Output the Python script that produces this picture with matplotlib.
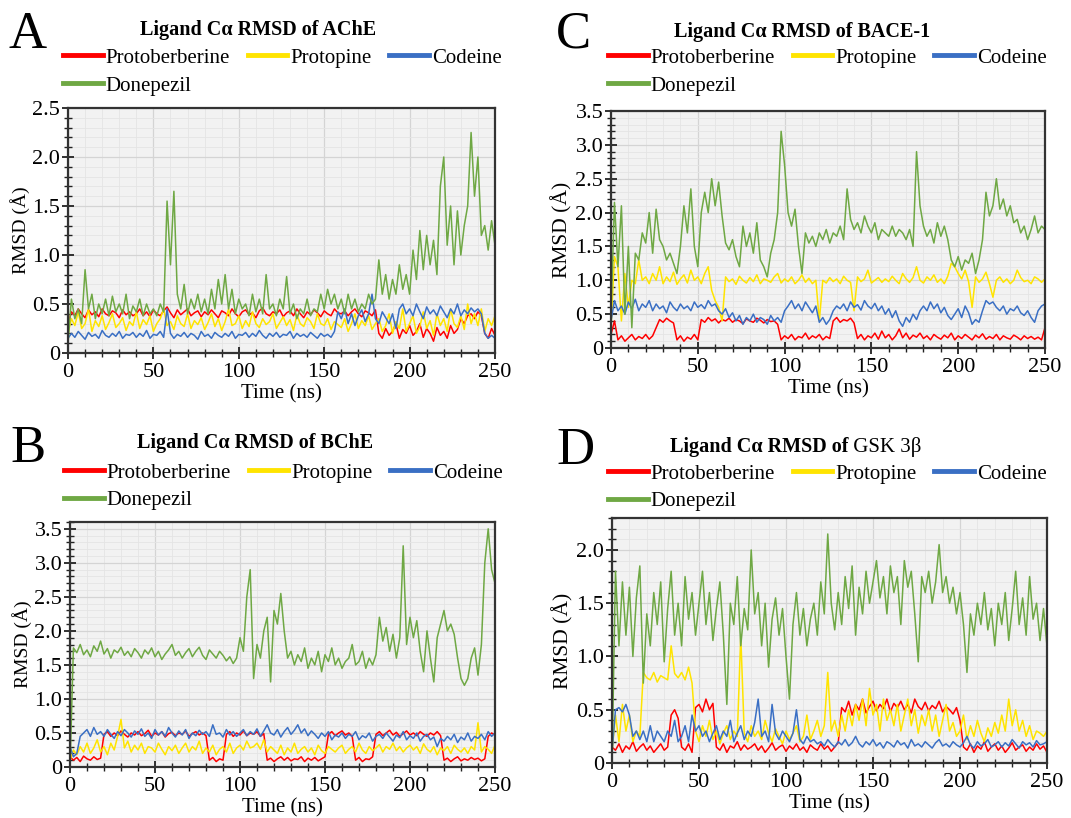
import numpy as np
import matplotlib.pyplot as plt
from matplotlib.lines import Line2D
from matplotlib.ticker import MultipleLocator, FuncFormatter

plt.rcParams['font.family'] = ['Liberation Serif', 'DejaVu Serif']

ligands = ['Protoberberine', 'Protopine', 'Codeine', 'Donepezil']
colors = ['#ff0000', '#ffe400', '#3a6fc4', '#6fa844']

# ---- AChE (A), values every 2 ns ----
ache_protoberberine = [
    0.30, 0.42, 0.38, 0.45, 0.40, 0.36, 0.44, 0.39, 0.42, 0.37,
    0.45, 0.40, 0.38, 0.43, 0.41, 0.36, 0.44, 0.39, 0.42, 0.38,
    0.40, 0.45, 0.38, 0.42, 0.37, 0.44, 0.40, 0.38, 0.43, 0.47,
    0.41, 0.36, 0.44, 0.39, 0.42, 0.45, 0.38, 0.41, 0.43, 0.37,
    0.42, 0.39, 0.44, 0.40, 0.36, 0.43, 0.41, 0.38, 0.45, 0.40,
    0.37, 0.42, 0.44, 0.39, 0.41, 0.36, 0.43, 0.46, 0.40, 0.38,
    0.42, 0.40, 0.44, 0.37, 0.41, 0.43, 0.38, 0.45, 0.40, 0.36,
    0.42, 0.39, 0.44, 0.41, 0.37, 0.43, 0.40, 0.38, 0.45, 0.41,
    0.40, 0.43, 0.38, 0.42, 0.45, 0.40, 0.37, 0.43, 0.41, 0.38,
    0.44, 0.20, 0.15, 0.25, 0.18, 0.22, 0.30, 0.15, 0.24, 0.20,
    0.28, 0.18, 0.22, 0.30, 0.16, 0.25, 0.20, 0.12, 0.26, 0.18,
    0.22, 0.15, 0.28, 0.20, 0.24, 0.35, 0.30, 0.38, 0.40, 0.35,
    0.42, 0.38, 0.20, 0.15, 0.25, 0.18]
ache_protopine = [
    0.20, 0.35, 0.28, 0.42, 0.25, 0.30, 0.45, 0.22, 0.33, 0.27,
    0.38, 0.24, 0.31, 0.40, 0.26, 0.30, 0.36, 0.23, 0.32, 0.28,
    0.42, 0.25, 0.34, 0.29, 0.38, 0.22, 0.30, 0.35, 0.45, 0.28,
    0.32, 0.24, 0.38, 0.30, 0.27, 0.40, 0.25, 0.33, 0.29, 0.36,
    0.24, 0.31, 0.40, 0.27, 0.35, 0.23, 0.32, 0.45, 0.28, 0.30,
    0.38, 0.25, 0.33, 0.27, 0.42, 0.30, 0.26, 0.35, 0.29, 0.32,
    0.40, 0.25, 0.31, 0.37, 0.28, 0.34, 0.23, 0.39, 0.30, 0.27,
    0.36, 0.32, 0.25, 0.40, 0.30, 0.28, 0.35, 0.24, 0.32, 0.29,
    0.26, 0.35, 0.22, 0.30, 0.40, 0.25, 0.33, 0.28, 0.38, 0.24,
    0.30, 0.35, 0.22, 0.28, 0.40, 0.20, 0.32, 0.25, 0.45, 0.22,
    0.30, 0.38, 0.20, 0.27, 0.42, 0.25, 0.33, 0.18, 0.40, 0.28,
    0.35, 0.22, 0.45, 0.30, 0.26, 0.38, 0.24, 0.50, 0.30, 0.40,
    0.28, 0.45, 0.22, 0.35, 0.28, 0.38]
ache_codeine = [
    0.15, 0.20, 0.16, 0.22, 0.18, 0.14, 0.21, 0.17, 0.19, 0.15,
    0.23, 0.18, 0.16, 0.20, 0.17, 0.22, 0.15, 0.19, 0.18, 0.21,
    0.16, 0.20, 0.17, 0.23, 0.15, 0.19, 0.18, 0.22, 0.16, 0.45,
    0.20, 0.15, 0.19, 0.17, 0.21, 0.16, 0.20, 0.18, 0.14, 0.22,
    0.17, 0.19, 0.15, 0.21, 0.18, 0.16, 0.20, 0.17, 0.22, 0.15,
    0.19, 0.18, 0.21, 0.16, 0.20, 0.17, 0.23, 0.18, 0.15, 0.20,
    0.17, 0.21, 0.16, 0.19, 0.18, 0.22, 0.15, 0.20, 0.17, 0.19,
    0.16, 0.21, 0.18, 0.15, 0.20, 0.17, 0.19, 0.16, 0.22, 0.42,
    0.35, 0.45, 0.30, 0.40, 0.28, 0.38, 0.44, 0.32, 0.40, 0.60,
    0.35, 0.30, 0.42, 0.36, 0.30, 0.40, 0.25, 0.45, 0.50, 0.40,
    0.45, 0.38, 0.50, 0.42, 0.35, 0.47, 0.40, 0.44, 0.38, 0.48,
    0.42, 0.36, 0.45, 0.40, 0.50, 0.38, 0.44, 0.40, 0.46, 0.42,
    0.45, 0.40, 0.20, 0.15, 0.18, 0.15]
ache_donepezil = [
    0.10, 0.55, 0.35, 0.45, 0.30, 0.85, 0.45, 0.60, 0.35, 0.50,
    0.40, 0.55, 0.38, 0.58, 0.42, 0.50, 0.40, 0.60, 0.35, 0.48,
    0.42, 0.55, 0.38, 0.50, 0.40, 0.45, 0.38, 0.50, 0.42, 1.55,
    0.90, 1.65, 0.60, 0.45, 0.70, 0.40, 0.55, 0.45, 0.60, 0.42,
    0.55, 0.40, 0.65, 0.45, 0.75, 0.50, 0.80, 0.45, 0.65, 0.40,
    0.55, 0.45, 0.50, 0.38, 0.60, 0.42, 0.55, 0.40, 0.80, 0.45,
    0.50, 0.38, 0.55, 0.45, 0.78, 0.40, 0.50, 0.35, 0.45, 0.40,
    0.55, 0.38, 0.45, 0.42, 0.60, 0.45, 0.65, 0.50, 0.60, 0.45,
    0.55, 0.40, 0.60, 0.45, 0.55, 0.42, 0.50, 0.45, 0.60, 0.50,
    0.55, 0.95, 0.60, 0.80, 0.55, 0.75, 0.60, 0.90, 0.65, 0.80,
    0.60, 1.05, 0.75, 1.25, 0.85, 1.20, 0.90, 1.15, 0.80, 1.70,
    2.00, 1.10, 1.50, 0.90, 1.45, 1.00, 1.30, 1.50, 2.25, 1.60,
    2.00, 1.20, 1.30, 1.05, 1.35, 1.10]

# ---- BChE (B) ----
bche_protoberberine = [
    0.15, 0.10, 0.14, 0.08, 0.16, 0.12, 0.10, 0.15, 0.11, 0.13,
    0.48, 0.52, 0.45, 0.50, 0.46, 0.53, 0.48, 0.44, 0.50, 0.47,
    0.52, 0.46, 0.49, 0.54, 0.45, 0.50, 0.47, 0.52, 0.44, 0.49,
    0.51, 0.46, 0.50, 0.48, 0.53, 0.45, 0.49, 0.52, 0.47, 0.50,
    0.46, 0.10, 0.14, 0.08, 0.12, 0.10, 0.48, 0.52, 0.45, 0.50,
    0.47, 0.53, 0.46, 0.50, 0.48, 0.52, 0.45, 0.49, 0.10, 0.13,
    0.08, 0.12, 0.15, 0.10, 0.14, 0.09, 0.12, 0.11, 0.15, 0.08,
    0.13, 0.10, 0.14, 0.09, 0.12, 0.15, 0.48, 0.52, 0.46, 0.50,
    0.53, 0.47, 0.50, 0.45, 0.10, 0.14, 0.08, 0.12, 0.11, 0.15,
    0.48, 0.52, 0.46, 0.50, 0.54, 0.47, 0.51, 0.45, 0.49, 0.53,
    0.47, 0.50, 0.46, 0.52, 0.48, 0.45, 0.50, 0.47, 0.52, 0.46,
    0.10, 0.13, 0.08, 0.12, 0.15, 0.09, 0.12, 0.10, 0.14, 0.11,
    0.13, 0.09, 0.12, 0.45, 0.50, 0.47]
bche_protopine = [
    0.10, 0.25, 0.18, 0.30, 0.22, 0.35, 0.20, 0.28, 0.40, 0.22,
    0.30, 0.18, 0.35, 0.25, 0.45, 0.70, 0.28, 0.38, 0.22, 0.32,
    0.25, 0.35, 0.20, 0.30, 0.28, 0.22, 0.35, 0.26, 0.18, 0.30,
    0.24, 0.32, 0.20, 0.28, 0.35, 0.22, 0.30, 0.25, 0.38, 0.20,
    0.28, 0.22, 0.32, 0.18, 0.26, 0.30, 0.22, 0.35, 0.20, 0.28,
    0.32, 0.25, 0.38, 0.28, 0.30, 0.35, 0.26, 0.40, 0.22, 0.30,
    0.25, 0.20, 0.32, 0.18, 0.28, 0.22, 0.35, 0.20, 0.26, 0.30,
    0.22, 0.28, 0.18, 0.32, 0.24, 0.20, 0.30, 0.26, 0.22, 0.28,
    0.32, 0.20, 0.26, 0.30, 0.22, 0.35, 0.25, 0.20, 0.30, 0.24,
    0.28, 0.33, 0.22, 0.30, 0.26, 0.35, 0.24, 0.30, 0.22, 0.28,
    0.32, 0.25, 0.30, 0.20, 0.34, 0.26, 0.22, 0.30, 0.18, 0.28,
    0.24, 0.30, 0.20, 0.32, 0.26, 0.22, 0.28, 0.20, 0.30, 0.25,
    0.65, 0.22, 0.30, 0.26, 0.20, 0.32]
bche_codeine = [
    0.30, 0.15, 0.20, 0.45, 0.50, 0.55, 0.45, 0.58, 0.48, 0.52,
    0.45, 0.55, 0.48, 0.42, 0.52, 0.46, 0.55, 0.50, 0.44, 0.53,
    0.48, 0.56, 0.45, 0.50, 0.42, 0.55, 0.47, 0.52, 0.45, 0.58,
    0.50, 0.44, 0.53, 0.47, 0.55, 0.42, 0.50, 0.46, 0.54, 0.48,
    0.52, 0.45, 0.62, 0.48, 0.50, 0.44, 0.55, 0.47, 0.52, 0.45,
    0.50, 0.55, 0.46, 0.52, 0.48, 0.56, 0.45, 0.53, 0.62, 0.50,
    0.47, 0.55, 0.44, 0.52, 0.58, 0.48, 0.54, 0.62, 0.50, 0.56,
    0.46, 0.53, 0.48, 0.42, 0.50, 0.45, 0.52, 0.40, 0.47, 0.44,
    0.50, 0.42, 0.48, 0.45, 0.52, 0.40, 0.46, 0.43, 0.50, 0.38,
    0.45, 0.48, 0.42, 0.50, 0.44, 0.38, 0.47, 0.43, 0.52, 0.40,
    0.46, 0.42, 0.50, 0.38, 0.45, 0.48, 0.40, 0.44, 0.30, 0.42,
    0.38, 0.45, 0.40, 0.48, 0.36, 0.44, 0.40, 0.50, 0.38, 0.45,
    0.42, 0.48, 0.40, 0.52, 0.45, 0.50]
bche_donepezil = [
    0.00, 1.75, 1.68, 1.80, 1.65, 1.72, 1.62, 1.78, 1.70, 1.85,
    1.66, 1.74, 1.60, 1.72, 1.68, 1.76, 1.64, 1.70, 1.62, 1.74,
    1.68, 1.60, 1.72, 1.66, 1.75, 1.62, 1.70, 1.58, 1.66, 1.72,
    1.80, 1.64, 1.70, 1.60, 1.68, 1.74, 1.62, 1.70, 1.76, 1.64,
    1.58, 1.72, 1.66, 1.60, 1.70, 1.64, 1.56, 1.62, 1.52, 1.60,
    1.90, 1.70, 2.50, 2.90, 1.30, 1.80, 1.60, 2.00, 2.20, 1.25,
    2.30, 2.10, 2.55, 2.00, 1.60, 1.70, 1.50, 1.65, 1.55, 1.75,
    1.45, 1.60, 1.50, 1.70, 1.40, 1.65, 1.55, 1.75, 1.50, 1.60,
    1.45, 1.55, 1.60, 1.80, 1.50, 1.55, 1.70, 1.45, 1.60, 1.50,
    1.65, 2.20, 1.85, 2.05, 1.70, 1.95, 1.60, 1.90, 3.25, 1.80,
    2.20, 1.90, 2.15, 1.70, 1.40, 2.00, 1.60, 1.25, 1.90, 2.10,
    2.30, 2.00, 2.10, 1.95, 1.60, 1.30, 1.20, 1.30, 1.60, 1.75,
    1.35, 1.80, 3.00, 3.50, 2.90, 2.70]

# ---- BACE-1 (C) ----
bace_protoberberine = [
    0.20, 0.40, 0.12, 0.18, 0.10, 0.15, 0.20, 0.12, 0.17, 0.14,
    0.20, 0.13, 0.18, 0.30, 0.42, 0.38, 0.44, 0.40, 0.37, 0.12,
    0.18, 0.10, 0.16, 0.13, 0.20, 0.12, 0.42, 0.38, 0.45, 0.40,
    0.43, 0.37, 0.42, 0.40, 0.44, 0.38, 0.42, 0.40, 0.36, 0.43,
    0.40, 0.38, 0.44, 0.41, 0.37, 0.42, 0.39, 0.40, 0.35, 0.12,
    0.18, 0.14, 0.20, 0.12, 0.17, 0.15, 0.22, 0.13, 0.18, 0.15,
    0.20, 0.12, 0.17, 0.14, 0.40, 0.45, 0.38, 0.42, 0.40, 0.44,
    0.37, 0.14, 0.20, 0.12, 0.18, 0.15, 0.22, 0.13, 0.25, 0.15,
    0.20, 0.12, 0.18, 0.28, 0.15, 0.22, 0.13, 0.19, 0.16, 0.22,
    0.14, 0.18, 0.12, 0.20, 0.16, 0.13, 0.19, 0.15, 0.22, 0.12,
    0.18, 0.14, 0.20, 0.16, 0.12, 0.19, 0.15, 0.21, 0.13, 0.17,
    0.14, 0.20, 0.12, 0.18, 0.15, 0.13, 0.19, 0.16, 0.12, 0.18,
    0.14, 0.17, 0.13, 0.16, 0.12, 0.30]
bace_protopine = [
    0.30, 1.35, 1.20, 0.40, 1.10, 0.60, 1.00, 0.95, 1.30, 1.00,
    1.05, 0.95, 1.10, 1.00, 1.20, 0.95, 1.05, 0.98, 1.12, 0.94,
    1.02, 1.08, 0.96, 1.15, 1.00, 1.05, 0.95, 1.10, 1.20, 0.85,
    0.70, 0.60, 0.40, 1.05, 0.98, 1.02, 0.94, 1.06, 1.00, 0.96,
    1.04, 0.98, 1.08, 0.95, 1.02, 1.00, 0.97, 1.05, 1.10, 0.96,
    1.02, 0.98, 1.05, 0.95, 1.00, 1.08, 0.97, 1.03, 0.95, 1.00,
    0.40, 1.00, 0.96, 1.04, 0.98, 1.02, 0.95, 1.06, 1.00, 0.97,
    0.55, 1.05, 0.98, 1.02, 1.15, 0.96, 1.00, 1.04, 0.97, 1.02,
    0.98, 1.06, 1.00, 0.95, 1.10, 1.02, 0.97, 1.04, 1.20, 1.00,
    0.96, 1.05, 1.00, 1.08, 0.97, 1.02, 0.95, 1.06, 1.25, 1.20,
    1.10, 1.02, 1.15, 0.98, 0.60, 1.05, 0.97, 1.02, 1.12, 0.95,
    0.75, 1.00, 1.05, 0.97, 1.02, 0.95, 1.00, 1.15, 1.04, 0.98,
    1.00, 0.95, 1.05, 1.02, 0.97, 1.02]
bace_codeine = [
    0.40, 0.70, 0.55, 0.62, 0.50, 0.68, 0.58, 0.72, 0.55, 0.65,
    0.60, 0.70, 0.55, 0.65, 0.58, 0.62, 0.52, 0.68, 0.60, 0.55,
    0.65, 0.58, 0.62, 0.55, 0.68, 0.60, 0.64, 0.58, 0.70, 0.62,
    0.65, 0.55, 0.50, 0.58, 0.45, 0.52, 0.40, 0.48, 0.35, 0.45,
    0.40, 0.50, 0.38, 0.45, 0.42, 0.35, 0.48, 0.40, 0.45, 0.38,
    0.55, 0.62, 0.70, 0.58, 0.65, 0.55, 0.68, 0.60, 0.52, 0.62,
    0.38, 0.45, 0.35, 0.42, 0.55, 0.62, 0.58, 0.65, 0.55, 0.68,
    0.60, 0.64, 0.56, 0.70, 0.62, 0.58, 0.66, 0.55, 0.62, 0.50,
    0.58, 0.45, 0.55, 0.40, 0.32, 0.45, 0.38, 0.50, 0.42, 0.55,
    0.62, 0.55, 0.68, 0.58, 0.65, 0.52, 0.60, 0.48, 0.42, 0.50,
    0.58, 0.45, 0.62, 0.52, 0.35, 0.42, 0.38, 0.55, 0.70, 0.65,
    0.68, 0.60, 0.55, 0.62, 0.50, 0.58, 0.55, 0.62, 0.52, 0.48,
    0.55, 0.45, 0.38, 0.55, 0.62, 0.65]
bace_donepezil = [
    0.50, 2.15, 1.20, 2.10, 0.50, 1.50, 0.30, 1.40, 1.30, 1.70,
    1.55, 2.00, 1.40, 2.05, 1.60, 1.50, 1.30, 1.40, 1.25, 1.10,
    1.50, 2.10, 1.70, 2.35, 1.50, 1.20, 2.00, 2.30, 2.00, 2.50,
    2.10, 2.45, 1.95, 1.55, 1.45, 1.60, 1.35, 1.20, 1.80, 1.50,
    1.70, 1.40, 1.85, 1.30, 1.20, 1.05, 1.40, 1.60, 2.00, 3.20,
    2.70, 2.00, 1.80, 2.05, 1.50, 1.10, 1.70, 1.55, 1.65, 1.50,
    1.70, 1.60, 1.75, 1.55, 1.70, 1.65, 1.80, 1.60, 2.35, 1.90,
    1.75, 1.85, 1.70, 1.95, 1.80, 1.70, 1.85, 1.60, 1.75, 1.70,
    1.65, 1.80, 1.65, 1.75, 1.70, 1.60, 1.75, 1.50, 2.90, 2.10,
    1.80, 1.65, 1.75, 1.55, 1.85, 1.65, 1.80, 1.60, 1.30, 1.20,
    1.35, 1.15, 1.30, 1.25, 1.40, 1.10, 1.30, 1.60, 2.30, 1.95,
    2.10, 2.50, 2.05, 2.20, 1.95, 2.10, 1.85, 1.90, 1.70, 1.80,
    1.60, 1.75, 1.95, 1.70, 1.80, 1.75]

# ---- GSK 3beta (D) ----
gsk_protoberberine = [
    0.15, 0.12, 0.18, 0.10, 0.16, 0.13, 0.20, 0.11, 0.15, 0.18,
    0.12, 0.16, 0.10, 0.14, 0.18, 0.12, 0.15, 0.45, 0.50, 0.42,
    0.15, 0.12, 0.18, 0.10, 0.52, 0.55, 0.48, 0.60, 0.50, 0.56,
    0.15, 0.12, 0.18, 0.10, 0.16, 0.14, 0.20, 0.12, 0.17, 0.13,
    0.15, 0.18, 0.12, 0.16, 0.10, 0.14, 0.19, 0.12, 0.15, 0.17,
    0.11, 0.16, 0.13, 0.18, 0.12, 0.15, 0.10, 0.17, 0.14, 0.12,
    0.18, 0.13, 0.16, 0.11, 0.15, 0.19, 0.52, 0.48, 0.58, 0.45,
    0.55, 0.50, 0.60, 0.47, 0.53, 0.58, 0.49, 0.55, 0.51, 0.60,
    0.48, 0.56, 0.52, 0.58, 0.50, 0.55, 0.47, 0.60, 0.53, 0.50,
    0.57, 0.49, 0.54, 0.51, 0.58, 0.48, 0.53, 0.50, 0.46, 0.52,
    0.40, 0.15, 0.12, 0.18, 0.10, 0.16, 0.13, 0.20, 0.11, 0.15,
    0.18, 0.12, 0.16, 0.10, 0.14, 0.19, 0.12, 0.15, 0.17, 0.11,
    0.15, 0.12, 0.18, 0.13, 0.16, 0.10]
gsk_protopine = [
    0.10, 0.45, 0.20, 0.55, 0.30, 0.45, 0.20, 0.30, 0.25, 0.85,
    0.80, 0.78, 0.85, 0.76, 0.82, 0.80, 0.78, 1.10, 0.84, 0.80,
    0.85, 0.78, 0.90, 0.75, 0.30, 0.20, 0.35, 0.25, 0.40, 0.22,
    0.30, 0.18, 0.28, 0.35, 0.22, 0.30, 0.25, 1.20, 0.28, 0.20,
    0.35, 0.25, 0.30, 0.22, 0.40, 0.28, 0.20, 0.32, 0.25, 0.18,
    0.30, 0.22, 0.28, 0.35, 0.20, 0.25, 0.45, 0.22, 0.30, 0.40,
    0.25, 0.35, 0.85, 0.30, 0.40, 0.25, 0.45, 0.30, 0.50, 0.35,
    0.55, 0.40, 0.60, 0.35, 0.70, 0.45, 0.55, 0.30, 0.60, 0.40,
    0.50, 0.35, 0.55, 0.30, 0.45, 0.60, 0.35, 0.50, 0.28, 0.45,
    0.35, 0.50, 0.30, 0.45, 0.25, 0.40, 0.55, 0.30, 0.38, 0.25,
    0.30, 0.45, 0.22, 0.35, 0.25, 0.40, 0.28, 0.20, 0.33, 0.25,
    0.38, 0.28, 0.45, 0.30, 0.60, 0.35, 0.50, 0.30, 0.40, 0.25,
    0.35, 0.22, 0.30, 0.28, 0.25, 0.30]
gsk_codeine = [
    0.10, 0.50, 0.52, 0.48, 0.55, 0.45, 0.25, 0.30, 0.22, 0.30,
    0.20, 0.35, 0.20, 0.30, 0.25, 0.20, 0.30, 0.25, 0.40, 0.20,
    0.25, 0.35, 0.20, 0.45, 0.30, 0.35, 0.25, 0.30, 0.20, 0.28,
    0.35, 0.22, 0.30, 0.25, 0.40, 0.20, 0.28, 0.35, 0.22, 0.30,
    0.25, 0.38, 0.60, 0.25, 0.30, 0.20, 0.55, 0.28, 0.22, 0.30,
    0.25, 0.20, 0.28, 0.50, 0.22, 0.18, 0.25, 0.20, 0.22, 0.18,
    0.20, 0.16, 0.22, 0.18, 0.15, 0.20, 0.17, 0.22, 0.16, 0.19,
    0.25, 0.18, 0.15, 0.20, 0.17, 0.22, 0.16, 0.19, 0.14, 0.20,
    0.18, 0.15, 0.21, 0.17, 0.19, 0.14, 0.22, 0.16, 0.18, 0.15,
    0.20, 0.17, 0.14, 0.19, 0.22, 0.16, 0.18, 0.15, 0.20, 0.17,
    0.15, 0.19, 0.25, 0.17, 0.14, 0.20, 0.16, 0.18, 0.22, 0.15,
    0.17, 0.20, 0.15, 0.19, 0.16, 0.22, 0.18, 0.14, 0.20, 0.17,
    0.19, 0.15, 0.21, 0.17, 0.18, 0.20]
gsk_donepezil = [
    0.00, 1.80, 1.10, 1.70, 1.20, 1.65, 1.00, 1.55, 1.85, 0.75,
    1.40, 1.10, 1.60, 1.30, 1.70, 0.95, 1.45, 1.80, 1.20, 1.50,
    1.10, 1.75, 1.35, 1.60, 1.20, 1.50, 1.80, 1.30, 1.60, 1.15,
    1.45, 1.70, 1.20, 0.55, 1.50, 1.30, 1.75, 1.10, 1.45, 1.25,
    2.00, 1.40, 1.60, 1.10, 1.50, 0.90, 1.35, 1.55, 1.20, 1.45,
    1.00, 0.60, 1.30, 1.60, 1.20, 1.45, 1.10, 1.35, 1.50, 1.20,
    1.70, 1.40, 2.15, 1.50, 1.25, 1.60, 1.30, 1.75, 1.45, 1.85,
    1.20, 1.65, 1.40, 1.80, 1.50, 1.70, 1.90, 1.55, 1.75, 1.40,
    1.85, 1.60, 1.75, 1.30, 1.90, 1.65, 1.80, 1.40, 0.95, 1.75,
    1.60, 1.80, 1.50, 1.70, 2.05, 1.60, 1.75, 1.50, 1.65, 1.40,
    1.60, 1.30, 0.85, 1.40, 1.20, 1.50, 1.30, 1.60, 1.25, 1.45,
    1.10, 1.50, 1.30, 1.60, 1.15, 1.45, 1.80, 1.30, 1.55, 1.20,
    1.75, 1.35, 1.50, 1.15, 1.45, 1.10]


def rmsd_fmt(v, pos):
    return '0' if abs(v) < 1e-9 else f'{v:.1f}'


def draw_panel(ax, series, ymax, ylab_size):
    for vals, c in zip(series, colors):
        t = np.linspace(0, 250, len(vals))
        ax.plot(t, vals, color=c, lw=1.1)
    ax.set_xlim(0, 250)
    ax.set_ylim(0, ymax)
    ax.set_facecolor('#f2f2f2')
    ax.xaxis.set_major_locator(MultipleLocator(50))
    ax.xaxis.set_minor_locator(MultipleLocator(10))
    ax.yaxis.set_major_locator(MultipleLocator(0.5))
    ax.yaxis.set_minor_locator(MultipleLocator(0.1))
    ax.yaxis.set_major_formatter(FuncFormatter(rmsd_fmt))
    ax.grid(which='major', color='#d4d4d4', lw=0.9)
    ax.grid(which='minor', color='#e4e4e4', lw=0.6)
    ax.set_axisbelow(True)
    ax.tick_params(which='both', direction='inout', top=False, right=False,
                   labelsize=16, color='#222222')
    ax.tick_params(which='major', length=8, width=1.3)
    ax.tick_params(which='minor', length=6, width=1.0)
    ax.tick_params(axis='y', which='major', pad=1.5)
    for s in ax.spines.values():
        s.set_linewidth(1.6)
        s.set_color('#333333')
    ax.set_xlabel('Time (ns)', fontsize=15, labelpad=1)
    ax.set_ylabel('RMSD (Å)', fontsize=ylab_size, labelpad=2)

    order = [0, 3, 1, 2]
    handles = [Line2D([], [], color=colors[i], lw=3.5) for i in order]
    labels = [ligands[i] for i in order]
    return handles, labels


fig = plt.figure(figsize=(10.71, 8.18), dpi=100)
W, H = 1071, 818

panels = [
    # letter, target, data, ymax, axes box (px: left, top, right, bottom), ylabel size,
    # letter pos, title pos, legend pos
    ('A', 'AChE', [ache_protoberberine, ache_protopine, ache_codeine, ache_donepezil],
     2.5, (68, 108, 495, 353), 14, (28, 35), (258, 30), (63, 48)),
    ('C', 'BACE-1', [bace_protoberberine, bace_protopine, bace_codeine, bace_donepezil],
     3.5, (611, 111, 1045, 348), 15.5, (573, 35), (802, 32), (608, 48)),
    ('B', 'BChE', [bche_protoberberine, bche_protopine, bche_codeine, bche_donepezil],
     3.6, (70, 522, 495, 767), 14, (28, 449), (255, 443), (64, 463)),
    ('D', None, [gsk_protoberberine, gsk_protopine, gsk_codeine, gsk_donepezil],
     2.3, (612, 518, 1047, 763), 15.5, (575, 451), (670, 447), (608, 464)),
]

for letter, target, data, ymax, box, ysize, lpos, tpos, legpos in panels:
    l, t, r, b = box
    ax = fig.add_axes([l / W, 1 - b / H, (r - l) / W, (b - t) / H])
    handles, labels = draw_panel(ax, data, ymax, ysize)

    fig.text(lpos[0] / W, 1 - lpos[1] / H, letter, fontsize=38,
             ha='center', va='center')
    if target is not None:
        fig.text(tpos[0] / W, 1 - tpos[1] / H, f'Ligand Cα RMSD of {target}',
                 fontsize=14.5, fontweight='bold', ha='center', va='center')
    else:
        t1 = fig.text(tpos[0] / W, 1 - tpos[1] / H, 'Ligand Cα RMSD of',
                      fontsize=14.5, fontweight='bold', ha='left', va='center')
        ax.annotate(' GSK 3β', xy=(1, 0), xycoords=t1, fontsize=15,
                    ha='left', va='bottom')

    fig.legend(handles, labels, loc='upper left', ncol=3, frameon=False,
               bbox_to_anchor=(legpos[0] / W, 1 - legpos[1] / H),
               fontsize=15, handlelength=1.9, handletextpad=0.15,
               columnspacing=0.85, labelspacing=0.4, borderpad=0,
               borderaxespad=0)

fig.savefig('out.png', dpi=100)
